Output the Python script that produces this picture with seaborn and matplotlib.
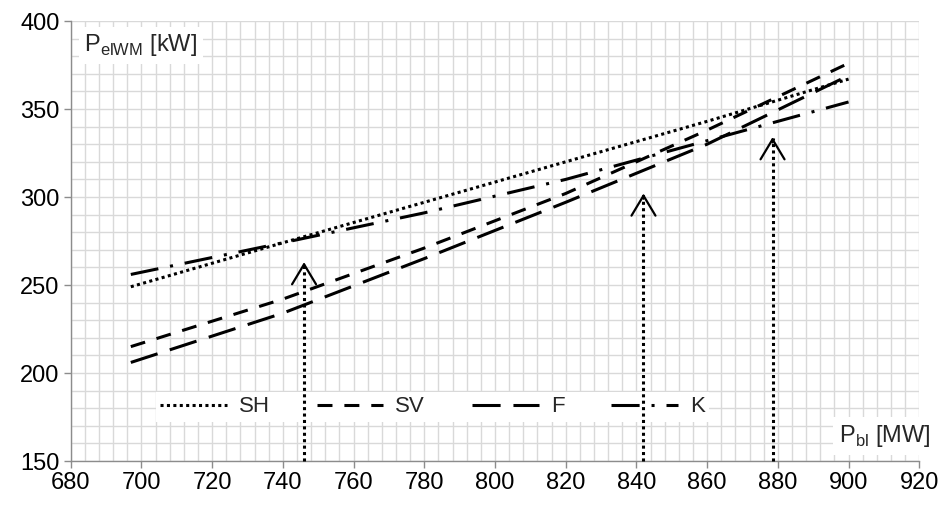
import matplotlib
matplotlib.use("Agg")
import matplotlib.pyplot as plt
from matplotlib.ticker import MultipleLocator
from matplotlib.lines import Line2D
import seaborn as sns
import pandas as pd

# ---- data ----
x_vals = [697, 740, 780, 820, 860, 900]
series_names = ["SH", "SV", "F", "K"]
sh_vals = [249, 274, 297, 320, 343, 367]
sv_vals = [215, 242, 271, 302, 338, 376]
f_vals = [206, 234, 265, 297, 330, 369]
k_vals = [256, 274, 291, 310, 332, 354]

arrow_x = [746, 842, 878.5]
arrow_top = [263, 302, 334]

x_ticks = list(range(680, 921, 20))
y_ticks = list(range(150, 401, 50))

sns.set_theme(style="white")
plt.rcParams["font.family"] = ["Liberation Sans", "DejaVu Sans"]
plt.rcParams["mathtext.fontset"] = "custom"
plt.rcParams["mathtext.rm"] = "Liberation Sans"

rows = []
for name, vals in zip(series_names, [sh_vals, sv_vals, f_vals, k_vals]):
    for xv, yv in zip(x_vals, vals):
        rows.append({"P_bl": xv, "P_el": yv, "series": name})
df = pd.DataFrame(rows)

dash_map = {
    "SH": (1.0, 1.1),
    "SV": (4.9, 3.9),
    "F": (9.2, 4.2),
    "K": (9.2, 3.9, 1.0, 3.9),
}

fig = plt.figure(figsize=(9.44, 5.05), dpi=100)
ax = fig.add_axes([0.0749, 0.0871, 0.8989, 0.8713])

sns.lineplot(data=df, x="P_bl", y="P_el", hue="series", style="series",
             palette={n: "black" for n in series_names}, dashes=dash_map,
             linewidth=2.2, legend=False, ax=ax, zorder=3)

for ln in ax.lines:
    ln.set_dash_capstyle("butt")

ax.set_xlim(680, 920)
ax.set_ylim(150, 400)
ax.set_xticks(x_ticks)
ax.set_yticks(y_ticks)
ax.xaxis.set_minor_locator(MultipleLocator(4))
ax.yaxis.set_minor_locator(MultipleLocator(10))
ax.grid(True, which="both", color="#d9d9d9", linewidth=1.0, zorder=0)
ax.set_axisbelow(True)
ax.set_xlabel("")
ax.set_ylabel("")

for s in ["top", "right"]:
    ax.spines[s].set_visible(False)
for s in ["left", "bottom"]:
    ax.spines[s].set_color("#8c8c8c")
    ax.spines[s].set_linewidth(1.0)
ax.tick_params(axis="both", which="major", direction="out", length=5,
               width=1.0, color="#8c8c8c", labelsize=17, labelcolor="black",
               bottom=True, left=True, pad=3)
ax.tick_params(axis="both", which="minor", length=0)

# arrows
for xa, ya in zip(arrow_x, arrow_top):
    ax.plot([xa, xa], [150, ya - 0.5], color="black", linestyle=(0, (1.0, 1.1)),
            linewidth=2.2, dash_capstyle="butt", zorder=7, clip_on=False)
    ax.annotate("", xy=(xa, ya), xytext=(xa, ya - 3),
                arrowprops=dict(arrowstyle="->,head_length=0.6,head_width=0.36",
                                color="black", lw=1.6, mutation_scale=24,
                                shrinkA=0, shrinkB=0),
                zorder=7)

# legend
handles = [Line2D([0], [0], color="black", linewidth=2.2,
                  linestyle=(0, dash_map[n]), dash_capstyle="butt")
           for n in series_names]
leg = ax.legend(handles, series_names, ncol=4, loc="center left",
                bbox_to_anchor=(0.1, 0.123), frameon=True, fancybox=False,
                facecolor="white", edgecolor="none", framealpha=1,
                fontsize=16, handlelength=3.0, handletextpad=0.55,
                columnspacing=2.1, borderpad=0.2, borderaxespad=0)
leg.set_zorder(5)

# axis titles inside the plot
ax.text(0.016, 0.945, r"P$_{\mathregular{elWM}}$ [kW]", transform=ax.transAxes,
        fontsize=17, ha="left", va="center", zorder=6,
        bbox=dict(facecolor="white", edgecolor="none", pad=4))
ax.text(0.905, 0.057, r"P$_{\mathregular{bl}}$ [MW]", transform=ax.transAxes,
        fontsize=17, ha="left", va="center", zorder=6, clip_on=False,
        bbox=dict(facecolor="white", edgecolor="none", pad=4))

fig.savefig("out.png", dpi=100)
